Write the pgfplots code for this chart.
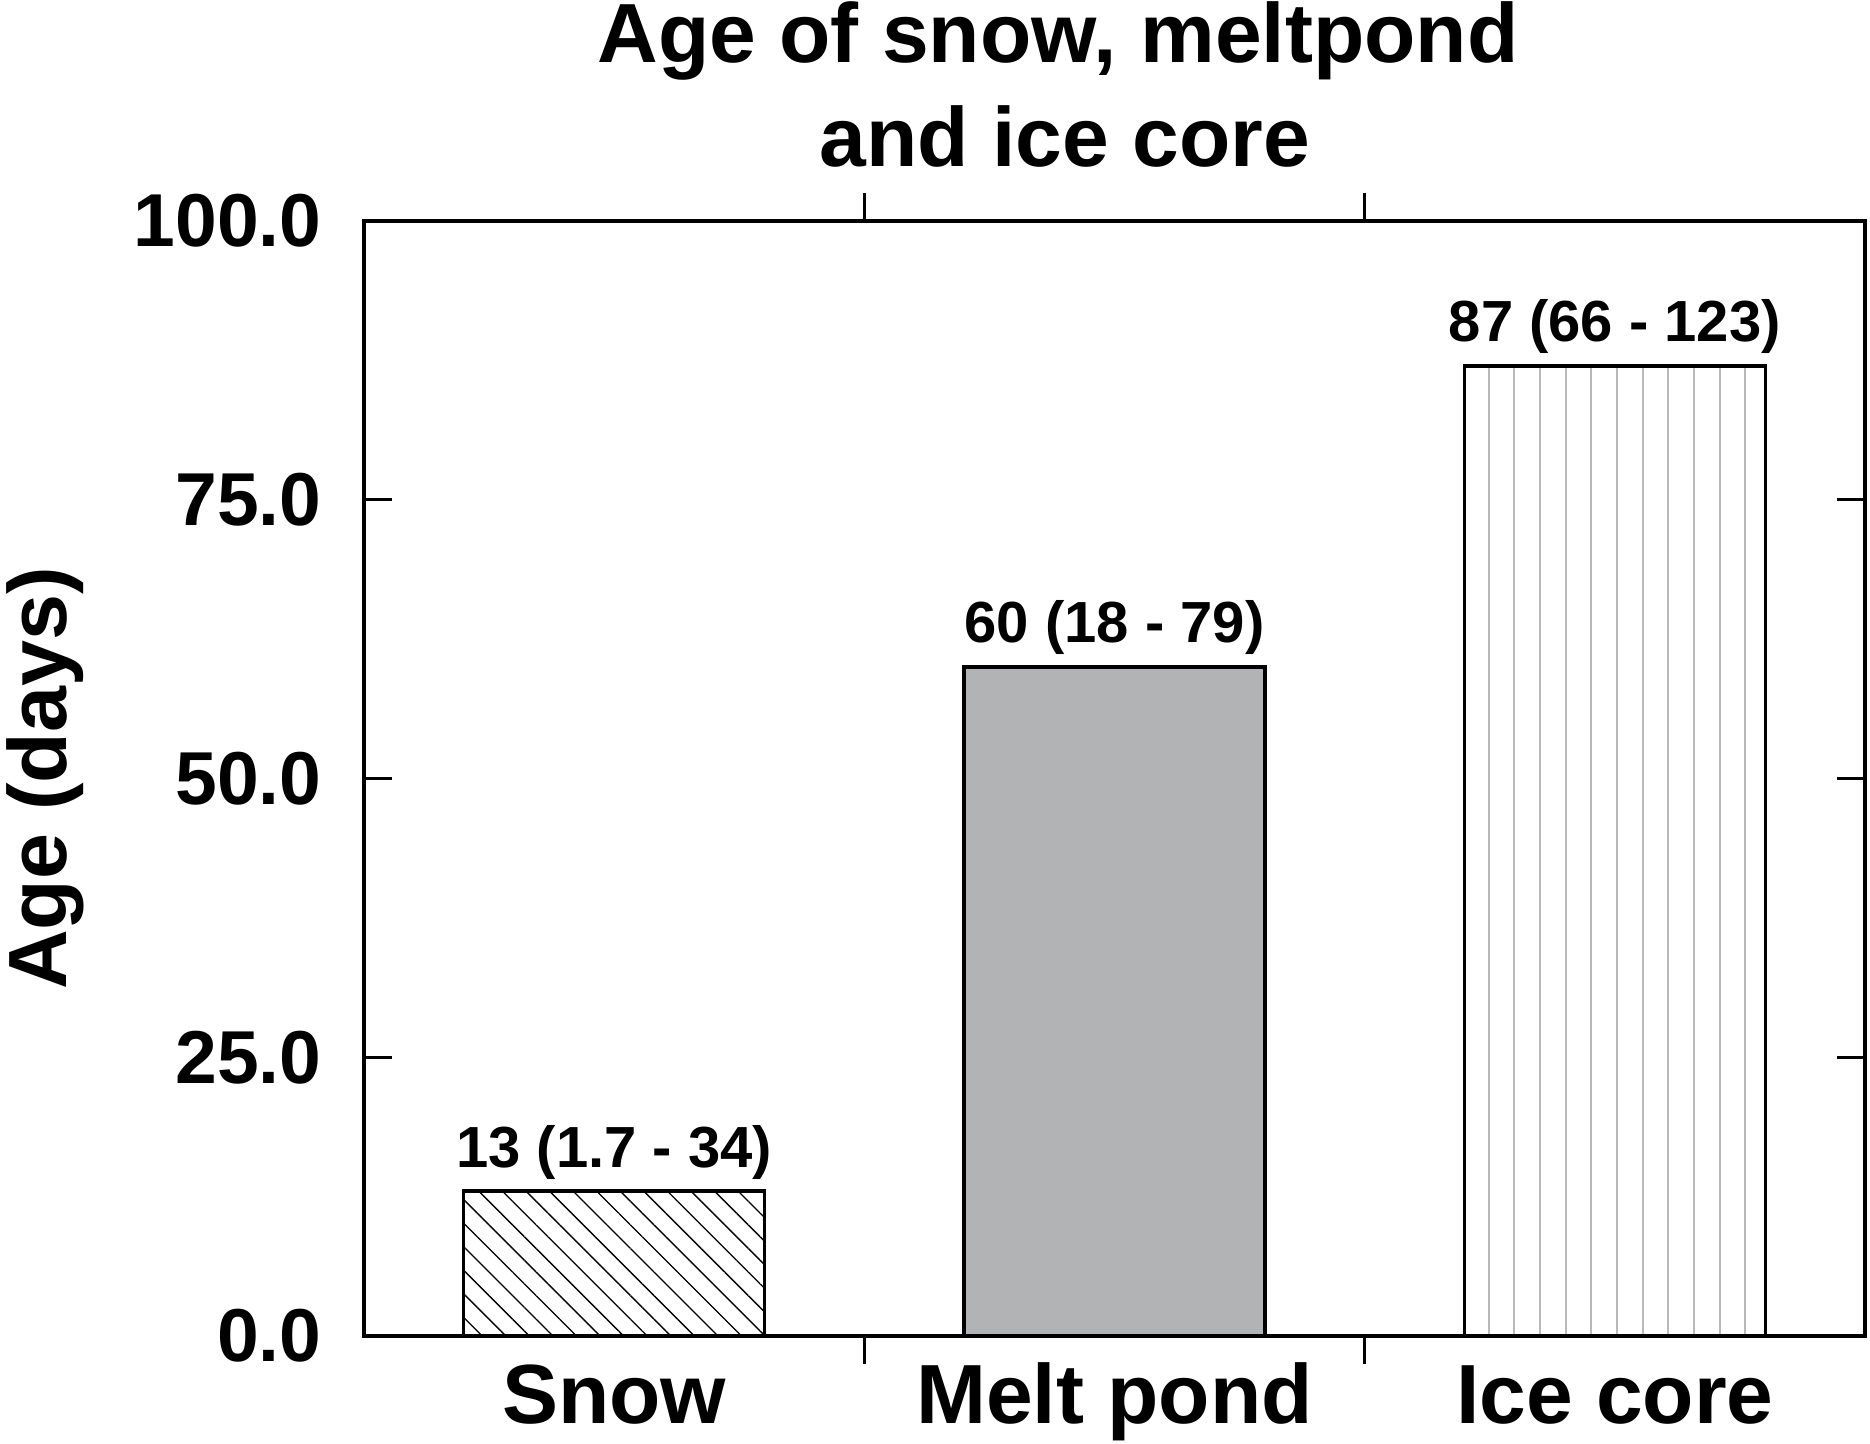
\documentclass[border=0pt]{standalone}
\usepackage{fontspec}
\setmainfont{Liberation Sans}
\usepackage{pgfplots}
\pgfplotsset{compat=1.18}
\usetikzlibrary{patterns.meta}
\definecolor{pondgray}{RGB}{178,179,181}
\definecolor{linegray}{RGB}{185,185,185}
\begin{document}
\begin{tikzpicture}
\begin{axis}[
  width=450.3pt, height=334.5pt, scale only axis,
  xmin=-0.5, xmax=2.5, ymin=0, ymax=100,
  axis line style={line width=1pt},
  tick style={line width=1pt, black},
  tick align=inside,
  major tick length=8.4pt,
  xtick={0.5,1.5}, xticklabels={},
  extra x ticks={0,1,2},
  extra x tick labels={Snow,Melt pond,Ice core},
  extra x tick style={major tick length=0pt},
  xticklabel style={font=\fontsize{25.2}{30}\selectfont\bfseries, anchor=base, inner sep=0pt, yshift=-26.1pt},
  ytick={0,25,50,75,100},
  yticklabel={\pgfmathprintnumber[fixed,fixed zerofill,precision=1,assume math mode=true]{\tick}},
  yticklabel style={font=\fontsize{22.5}{27}\selectfont\bfseries, anchor=east, inner sep=0pt, xshift=-12.6pt},
  ylabel={Age (days)},
  ylabel style={at={(axis description cs:-0.1985,0.5)}, anchor=base, inner sep=0pt, font=\fontsize{24.8}{29}\selectfont\bfseries},
  every node near coord/.append style={anchor=base, yshift=7.2pt, inner sep=0pt, text=black, font=\fontsize{17.4}{21}\selectfont\bfseries},
  ybar, bar width=90.3pt,
]
\addplot[bar shift=0pt, draw=black, line width=1pt,
  pattern={Lines[angle=-45, distance=5pt, line width=0.4pt]}, pattern color=black,
  nodes near coords={13 (1.7 - 34)}] coordinates {(0,13)};
\addplot[bar shift=0pt, draw=black, line width=1pt, fill=pondgray,
  nodes near coords={60 (18 - 79)}] coordinates {(1,60)};
\addplot[bar shift=0pt, draw=black, line width=1pt,
  pattern={Lines[angle=90, distance=7.7pt, line width=0.6pt]}, pattern color=linegray,
  nodes near coords={87 (66 - 123)}] coordinates {(2,87)};
\end{axis}
\node[anchor=base, inner sep=0pt, font=\fontsize{25.2}{30}\selectfont\bfseries] at (208.2pt,381.9pt) {Age of snow, meltpond};
\node[anchor=base, inner sep=0pt, font=\fontsize{25.2}{30}\selectfont\bfseries] at (210.3pt,350.7pt) {and ice core};
\pgfresetboundingbox
\path (-109.2pt,-32.1pt) rectangle (451.8pt,400.8pt);
\end{tikzpicture}
\end{document}
